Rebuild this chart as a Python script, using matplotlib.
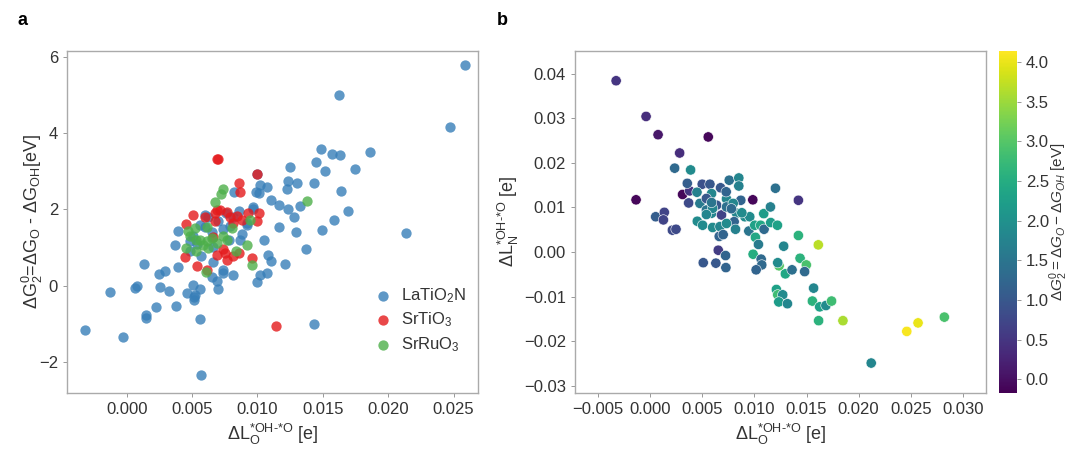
import numpy as np
import matplotlib
matplotlib.use('Agg')
import matplotlib.pyplot as plt

plt.rcParams['font.family'] = ['Liberation Sans', 'DejaVu Sans']
plt.rcParams['mathtext.fontset'] = 'custom'
plt.rcParams['mathtext.rm'] = 'Liberation Sans'
plt.rcParams['mathtext.it'] = 'Liberation Sans:italic'
plt.rcParams['text.color'] = '#333333'
plt.rcParams['axes.labelcolor'] = '#333333'
plt.rcParams['xtick.color'] = '#555555'
plt.rcParams['ytick.color'] = '#555555'
plt.rcParams['xtick.labelcolor'] = '#333333'
plt.rcParams['ytick.labelcolor'] = '#333333'

# panel a data: (dL_O, dG2)
latio2n_x = [0.02584, 0.01625, 0.02472, 0.01485, 0.01569, 0.01628, 0.01862, 0.01449, 0.01518, 0.01750,
             0.01250, 0.01237, 0.01306, 0.01436, 0.01640, 0.01224, 0.01020, 0.01071, 0.00990, 0.01015,
             0.00821, 0.01102, 0.01168, 0.01235, 0.01327, 0.01276, 0.01691, 0.01582, 0.01495, 0.01293,
             0.01163, 0.02133, 0.01370, 0.01051, 0.01082, 0.01105, 0.01214, 0.01020, 0.01071, 0.00997,
             0.00969, 0.00923, 0.00867, 0.00816, 0.00735, 0.00735, 0.00699, 0.00689, 0.00651, 0.00663,
             0.00602, 0.00395, 0.00370, 0.00393, 0.00135, 0.00247, 0.00296, 0.00253, 0.00324, 0.00082,
             0.00061, -0.00128, -0.00316, -0.00028, 0.00145, 0.00145, 0.00227, 0.00380, 0.00505, 0.00561,
             0.00462, 0.00520, 0.00515, 0.00512, 0.00564, 0.00569, 0.01436, 0.00566, 0.00485, 0.00505,
             0.00602, 0.00740, 0.00860, 0.00964, 0.00918, 0.00791, 0.00663, 0.00560, 0.00620, 0.00700,
             0.00760, 0.00815, 0.00880, 0.01000, 0.00780, 0.00650, 0.00540, 0.00480]
latio2n_y = [5.80, 5.01, 4.16, 3.60, 3.46, 3.42, 3.50, 3.25, 3.02, 3.06,
             3.11, 2.76, 2.69, 2.69, 2.49, 2.55, 2.63, 2.59, 2.45, 2.43,
             2.46, 2.25, 2.12, 2.02, 2.09, 1.81, 1.97, 1.73, 1.47, 1.41,
             1.54, 1.38, 0.95, 1.20, 0.80, 0.66, 0.56, 0.28, 0.33, 0.10,
             2.06, 1.59, 1.21, 0.29, 0.42, 0.33, -0.08, 0.11, 0.23, 0.62,
             1.85, 1.43, 1.08, 0.49, 0.58, 0.30, 0.38, -0.03, -0.15, 0.00,
             -0.06, -0.17, -1.16, -1.36, -0.77, -0.84, -0.55, -0.54, 0.02, -0.10,
             -0.20, -0.24, -0.37, -0.29, -0.87, -2.35, -1.01, 0.77, 1.16, 1.30,
             1.55, 1.48, 1.95, 2.02, 1.65, 1.57, 1.02, 1.60, 1.80, 1.70,
             1.90, 1.80, 1.35, 2.92, 1.20, 1.40, 1.10, 0.90]

srtio3_x = [0.00689, 0.00695, 0.01000, 0.00860, 0.00867, 0.00505, 0.00454, 0.00676, 0.00689, 0.00765,
            0.00791, 0.00842, 0.00880, 0.00931, 0.01008, 0.01000, 0.00676, 0.00816, 0.00663, 0.00444,
            0.00536, 0.00612, 0.00689, 0.00752, 0.00765, 0.00816, 0.00862, 0.00959, 0.01145, 0.00740,
            0.00715, 0.00600]
srtio3_y = [3.32, 3.33, 2.92, 2.69, 2.45, 1.86, 1.62, 1.91, 1.98, 1.93,
            1.80, 1.83, 1.73, 1.90, 1.92, 1.71, 1.70, 1.65, 1.29, 0.75,
            0.51, 0.42, 0.80, 0.86, 0.68, 0.77, 0.87, 0.73, -1.07, 0.95,
            1.98, 1.80]

srruo3_x = [0.00740, 0.00724, 0.00673, 0.01380, 0.00944, 0.00806, 0.00612, 0.00472, 0.00523, 0.00454,
            0.00531, 0.00561, 0.00612, 0.00625, 0.00587, 0.00689, 0.00740, 0.00765, 0.00832, 0.00918,
            0.00959, 0.00605, 0.00530, 0.00650, 0.00480]
srruo3_y = [2.54, 2.41, 2.20, 2.23, 1.73, 1.51, 1.53, 1.43, 1.52, 0.99,
            0.90, 1.20, 1.16, 0.99, 1.08, 1.11, 1.30, 1.21, 0.90, 1.08,
            0.54, 0.35, 1.20, 1.25, 1.30]

# panel b data: (dL_O, dL_N, dG2)
b_x = [-0.00325, -0.00038, 0.00077, 0.00558, 0.00284, 0.00236, 0.00389, -0.00134, 0.00312, 0.00380,
       0.00370, 0.00357, 0.00500, 0.00574, 0.00676, 0.00759, 0.00851, 0.00851, 0.01202, 0.01422,
       0.00985, 0.00870, 0.00733, 0.00590, 0.00054, 0.00137, 0.00128, 0.00214, 0.00249, 0.00453,
       0.00504, 0.00478, 0.00540, 0.00590, 0.00638, 0.00685, 0.00733, 0.00797, 0.00829, 0.00806,
       0.00909, 0.00956, 0.00600, 0.00670, 0.00733, 0.00819, 0.00663, 0.00701, 0.00654, 0.00724,
       0.00510, 0.00631, 0.00727, 0.00947, 0.01004, 0.01060, 0.01093, 0.01090, 0.01154, 0.01157,
       0.01221, 0.01010, 0.01039, 0.00988, 0.01065, 0.01071, 0.01017, 0.01281, 0.01422, 0.01613,
       0.01438, 0.01498, 0.01237, 0.01224, 0.01297, 0.01361, 0.01482, 0.01211, 0.01224, 0.01272,
       0.01234, 0.01317, 0.01568, 0.01556, 0.01626, 0.01686, 0.01740, 0.01616, 0.01849, 0.02120,
       0.02461, 0.02569, 0.02821, 0.00450, 0.00540, 0.00600, 0.00590, 0.00540, 0.00880, 0.00780,
       0.00730]
b_y = [0.0384, 0.0304, 0.0263, 0.0258, 0.0222, 0.0188, 0.0184, 0.0117, 0.0129, 0.0137,
       0.0110, 0.0154, 0.0152, 0.0152, 0.0144, 0.0161, 0.0166, 0.0148, 0.0143, 0.0116,
       0.0117, 0.0116, 0.0119, 0.0131, 0.0079, 0.0089, 0.0072, 0.0049, 0.0051, 0.0069,
       0.0060, 0.0109, 0.0094, 0.0087, 0.0105, 0.0083, 0.0101, 0.0109, 0.0087, 0.0068,
       0.0079, 0.0079, 0.0055, 0.0057, 0.0064, 0.0051, 0.0035, 0.0039, 0.0004, -0.0008,
       -0.0024, -0.0025, -0.0035, 0.0047, 0.0060, 0.0060, 0.0051, 0.0086, 0.0101, 0.0066,
       0.0060, 0.0033, 0.0017, -0.0005, -0.0016, -0.0029, -0.0040, 0.0013, 0.0037, 0.0016,
       -0.0014, -0.0029, -0.0031, -0.0024, -0.0049, -0.0040, -0.0044, -0.0084, -0.0096, -0.0096,
       -0.0112, -0.0116, -0.0081, -0.0110, -0.0123, -0.0120, -0.0110, -0.0154, -0.0154, -0.0249,
       -0.0178, -0.0159, -0.0146, 0.0134, 0.0120, 0.0098, 0.0111, 0.0084, 0.0088, 0.0097,
       0.0135]
b_c = [0.5, 0.4, 0.1, -0.1, 0.4, 1.3, 1.9, -0.1, -0.1, 0.5,
       0.8, 1.1, 0.9, 1.0, 1.0, 1.4, 1.8, 1.7, 1.4, 0.5,
       -0.1, 1.2, 1.8, 1.8, 1.1, 0.7, 0.7, 0.8, 0.8, 1.9,
       1.9, 1.6, 1.5, 1.8, 1.0, 0.7, 1.4, 1.8, 1.8, 1.2,
       1.9, 1.9, 1.9, 1.8, 1.9, 1.7, 1.2, 1.2, 0.6, 1.2,
       1.0, 1.0, 1.2, 1.5, 2.3, 2.4, 1.3, 2.2, 1.7, 2.2,
       2.3, 2.4, 1.6, 2.5, 1.3, 1.3, 1.2, 1.8, 2.6, 3.7,
       2.6, 2.9, 3.0, 1.9, 2.4, 1.4, 1.3, 2.3, 2.8, 1.9,
       2.2, 1.8, 1.8, 2.6, 2.3, 1.9, 2.8, 2.6, 3.6, 1.8,
       4.1, 4.0, 2.9, 1.7, 1.0, 1.8, 1.5, 1.8, 1.9, 1.3,
       1.2]

fig = plt.figure(figsize=(10.71, 4.57), dpi=100)
ax1 = fig.add_axes([0.0626, 0.1407, 0.3838, 0.7477])
ax2 = fig.add_axes([0.5369, 0.1407, 0.3838, 0.7477])
cax = fig.add_axes([0.9328, 0.1407, 0.0165, 0.7477])

set1 = ['#377eb8', '#e41a1c', '#4daf4a']
ax1.scatter(latio2n_x, latio2n_y, s=55, color=set1[0], alpha=0.8, lw=0, label='LaTiO$_\\mathregular{2}$N')
ax1.scatter(srtio3_x, srtio3_y, s=55, color=set1[1], alpha=0.8, lw=0, label='SrTiO$_\\mathregular{3}$')
ax1.scatter(srruo3_x, srruo3_y, s=55, color=set1[2], alpha=0.8, lw=0, label='SrRuO$_\\mathregular{3}$')
ax1.set_xlim(-0.00457, 0.02688)
ax1.set_ylim(-2.81, 6.16)
ax1.set_xticks([0.0, 0.005, 0.01, 0.015, 0.02, 0.025])
ax1.set_yticks([-2, 0, 2, 4, 6])
ax1.set_xlabel(r'$\Delta$L$_\mathregular{O}^\text{*OH-*O}$ [e]', fontsize=13)
ax1.set_ylabel(r'$\Delta$G$_\mathregular{2}^\mathregular{0}$=$\Delta$G$_\mathregular{O}$ - $\Delta$G$_\mathregular{OH}$[eV]', fontsize=13)
ax1.yaxis.set_label_coords(-0.054, 0.5)
ax1.legend(loc='lower right', bbox_to_anchor=(1.0, 0.08), frameon=False, fontsize=12,
           handletextpad=0.1, labelspacing=0.35, borderaxespad=0.3)

sc = ax2.scatter(b_x, b_y, c=b_c, cmap='viridis', vmin=-0.17, vmax=4.14, s=55,
                 edgecolors='white', linewidths=0.4)
ax2.set_xlim(-0.00719, 0.03221)
ax2.set_ylim(-0.03155, 0.04507)
ax2.set_xticks([-0.005, 0.0, 0.005, 0.01, 0.015, 0.02, 0.025, 0.03])
ax2.set_yticks([-0.03, -0.02, -0.01, 0.0, 0.01, 0.02, 0.03, 0.04])
ax2.set_xlabel(r'$\Delta$L$_\mathregular{O}^\text{*OH-*O}$ [e]', fontsize=13)
ax2.set_ylabel(r'$\Delta$L$_\mathregular{N}^\text{*OH-*O}$ [e]', fontsize=13, labelpad=2)

cb = fig.colorbar(sc, cax=cax)
cb.set_ticks([0.0, 0.5, 1.0, 1.5, 2.0, 2.5, 3.0, 3.5, 4.0])
cb.set_label(r'$\Delta G_2^0 = \Delta G_O - \Delta G_{OH}$ [eV]', fontsize=11, labelpad=-1)
cb.outline.set_visible(False)
cax.tick_params(labelsize=12, length=3, width=0.6, color='#888888')

for ax in [ax1, ax2]:
    for sp in ax.spines.values():
        sp.set_color('#aaaaaa')
        sp.set_linewidth(1.0)
    ax.tick_params(labelsize=12, length=3, width=0.6, color='#888888')

fig.text(0.016, 0.955, 'a', fontsize=13, fontweight='bold', color='black', va='center')
fig.text(0.464, 0.955, 'b', fontsize=13, fontweight='bold', color='black', va='center')

fig.savefig('out.png', dpi=100)
